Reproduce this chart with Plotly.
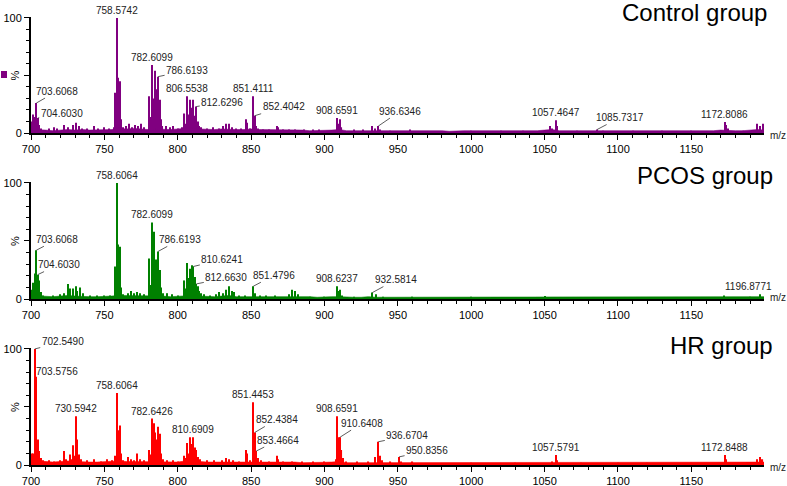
import plotly.graph_objects as go

# ---------------- DATA ----------------
noise_mz = list(range(700, 1201, 5))

ctrl_noise = [3, 3, 2.5, 2, 2.5, 3, 2.5, 3, 2.5, 2.5, 3,
              3, 4, 3.5, 4, 3.5, 3, 3.5, 3, 3, 3.5,
              4, 4.5, 3.5, 3, 3, 3.5, 3, 3, 3, 3.5,
              3, 3, 2.5, 2.5, 2.5, 2.5, 2.5, 2, 2, 2.5,
              2.5, 3, 2, 2, 2, 2.5, 2, 2, 2, 2,
              2, 2.5, 2, 2, 2, 2, 1.5, 2, 2, 2,
              2, 2, 1.5, 2, 2, 2, 2, 1.5, 2, 2.5,
              3, 2, 2, 2, 2, 1.5, 2, 2, 2, 2,
              2, 2, 2, 1.5, 2, 2, 2, 2, 2, 2,
              2, 2, 2, 2.5, 2, 2, 2, 2.5, 3, 2.5]
pcos_noise = [3, 2.5, 2, 2, 2.5, 3, 2.5, 2, 2, 2, 2,
              2.5, 3, 3, 2.5, 2.5, 2.5, 3, 2.5, 2, 2.5,
              3, 3, 2.5, 2, 2, 2.5, 3, 2, 2, 2,
              2, 2, 2, 2, 2, 2.5, 2, 2, 1.5, 2,
              2, 2, 1.5, 1.5, 1.5, 2, 1.5, 1.5, 1.5, 1.5,
              1.5, 1.5, 1.5, 1.5, 1.5, 1.5, 1.5, 1.5, 1.5, 1.5,
              1.5, 1.5, 1.5, 1.5, 1.5, 1.5, 1.5, 1.5, 1.5, 2,
              1.5, 1.5, 1.5, 1.5, 1.5, 1.5, 1.5, 1.5, 1.5, 1.5,
              1.5, 1.5, 1.5, 1.5, 1.5, 1.5, 1.5, 1.5, 1.5, 1.5,
              1.5, 1.5, 1.5, 2, 1.5, 1.5, 1.5, 1.5, 2, 2]
hr_noise = [4, 3.5, 3, 2.5, 3, 3.5, 3, 2.5, 2.5, 2.5, 3,
            3, 3.5, 3, 3, 2.5, 2.5, 3, 3, 2.5, 2.5,
            3.5, 3.5, 3, 2.5, 2.5, 3, 3, 2.5, 2.5, 3,
            3, 2.5, 2.5, 2.5, 2.5, 2.5, 2, 2, 2, 2,
            2.5, 3, 2, 2, 2, 2.5, 2.5, 2, 2, 2.5,
            2, 2, 2, 2, 2, 2, 2, 2, 2, 2,
            2, 2, 2, 2, 2, 2, 2, 2, 2, 2.5,
            2.5, 2, 2, 2, 2, 2, 2, 2, 2, 2,
            2, 2, 2, 2, 2, 2, 2, 2, 2, 2,
            2, 2, 2, 2.5, 2, 2, 2, 2, 2.5, 2.5]

ctrl_mz = [700.6, 701.5, 702.5, 703.6068, 704.603, 705.6, 706.6, 712, 716, 718, 722.5, 725, 728.5, 730.5,
           732.5, 735, 738, 743, 746, 750, 753, 756.5,
           757.6, 758.5742, 759.6, 760.6, 761.6, 762.6, 765, 767, 769, 771, 773, 775, 777,
           780.6, 781.6, 782.6099, 783.6, 784.6, 785.6, 786.6193, 787.6, 788.6, 789.6, 792, 795, 797, 800, 803,
           804.6, 805.6, 806.5538, 807.6, 808.6, 809.6, 810.6, 811.6, 812.6296, 813.6, 814.6, 816,
           820, 824, 828, 831, 833, 835, 837, 840, 843,
           846.5, 847.5, 849, 851.4111, 852.4042, 853.4, 855, 858, 862,
           867.6, 868.6, 872, 876, 880, 886, 892, 896,
           908.6591, 909.6, 910.6, 911.6, 920, 926, 932.6, 934.6, 936.6346, 937.6, 945, 958,
           1000, 1020, 1035, 1053.5, 1055, 1057.4647, 1058.5, 1072, 1085.7317, 1090, 1110, 1130, 1150,
           1172.8086, 1173.8, 1175, 1185, 1195, 1196.8, 1198.8]
ctrl_int = [10, 16, 14, 26, 13, 7, 4, 4, 5, 4, 7, 5, 7, 9,
            6, 4, 4, 6, 4, 5, 4, 5,
            35, 100, 48, 45, 12, 5, 6, 8, 5, 7, 6, 8, 5,
            32, 14, 59, 30, 54, 38, 49, 29, 12, 6, 6, 5, 6, 4, 5,
            17, 8, 32, 16, 29, 22, 29, 15, 23, 10, 6, 5,
            4, 5, 4, 6, 8, 8, 5, 4, 4,
            12, 9, 4, 32, 15, 6, 4, 3, 3,
            6, 5, 3, 3, 3, 3, 3, 3,
            13, 8, 12, 5, 3, 3, 6, 4, 6, 3, 2, 3,
            2, 2, 2, 6, 4, 11, 6, 2, 3, 2, 2, 2, 2,
            9.5, 7, 4, 2, 8, 6, 8]

pcos_mz = [700.6, 701.6, 702.6, 703.6068, 704.603, 705.6, 706.6, 708,
           715, 720, 722.5, 725.5, 726.5, 728.5, 730.5, 731.5, 733.5, 735.5, 740, 745, 750, 754,
           757.6, 758.6064, 759.6, 760.6, 761.6, 763, 766, 768, 770, 772, 774, 777,
           780.6, 781.6, 782.6099, 783.6, 784.6, 785.6, 786.6193, 787.6, 788.6, 790, 793, 796, 800,
           804.6, 805.6, 806.6, 807.6, 808.6, 809.6, 810.6241, 811.6, 812.663, 813.6, 814.6, 816, 818,
           822, 826, 828, 831, 833, 835, 837, 838.5, 842,
           846, 851.4796, 852.5, 856, 860, 866, 876, 878, 880, 882, 890, 900,
           908.6237, 909.6, 910.6, 912, 920, 932.5814, 935, 940, 960, 1000, 1050, 1100, 1150, 1172, 1190,
           1196.8771]
pcos_int = [8, 14, 22, 42, 21, 16, 6, 3,
            3, 4, 5, 13, 9, 9, 11, 7, 10, 5, 3, 3, 3, 3,
            28, 100, 47, 45, 10, 4, 5, 7, 5, 6, 5, 4,
            35, 12, 66, 58, 34, 34, 41, 25, 10, 5, 5, 4, 3,
            16, 9, 31, 18, 26, 29, 28, 19, 13, 11, 7, 5, 4,
            3, 4, 6, 5, 8, 11, 7, 6, 3,
            3, 11, 5, 3, 3, 3, 4, 8, 7, 4, 2, 2,
            11, 7, 8, 3, 2, 5.5, 4, 2, 2, 2, 2.5, 1.5, 1.5, 3, 2,
            4]

hr_mz = [700.5, 701.5, 702.549, 703.5756, 704.6, 705.6, 706.6, 708,
         712, 716, 720, 722.5, 724, 726.5, 727.5, 728.5, 729.5, 730.5942, 731.6, 732.6, 734, 738, 743, 748,
         752, 755,
         757.6, 758.6064, 759.6, 760.6, 761.6, 763, 766, 768, 770, 772, 774, 777,
         780.6, 781.6, 782.6426, 783.6, 784.6, 785.6, 786.6, 787.6, 788.6, 790, 793, 797, 800,
         804.6, 805.6, 806.6, 807.6, 808.6, 809.6, 810.6909, 811.6, 812.6, 813.6, 815,
         820, 825, 830, 833, 835, 838, 842,
         846.5, 847.5, 849, 851.4453, 852.4384, 853.4664, 854.5, 857, 862,
         867.6, 868.6, 872, 878, 885, 892, 900,
         907.6, 908.6591, 909.6, 910.6408, 911.6, 912.6, 915, 922,
         930, 934.6, 936.6704, 937.7, 939, 945, 950.8356, 952, 960,
         1000, 1030, 1055, 1057.5791, 1058.6, 1075, 1100, 1120, 1150,
         1172.8488, 1173.8, 1180, 1195, 1197, 1198.5]
hr_int = [10, 10, 100, 76, 22, 12, 6, 4,
          4, 3, 4, 12, 5, 9, 5, 17, 8, 42, 22, 9, 5, 4, 5, 3,
          5, 4,
          8, 62, 30, 34, 10, 4, 7, 5, 4, 10, 5, 4,
          13, 9, 40, 36, 28, 22, 33, 27, 10, 5, 4, 4, 3,
          8, 6, 19, 10, 24, 18, 24, 15, 13, 7, 5,
          4, 4, 4, 6, 5, 4, 3,
          13, 10, 4, 54, 28, 12, 6, 4, 3,
          8, 5, 3, 3, 3, 3, 3,
          5, 42, 24, 24, 13, 6, 3, 3,
          3, 7, 20, 8, 4, 3, 7, 3, 3,
          2, 2, 3, 8.6, 4, 2, 2, 2, 2,
          8.6, 5, 2, 5, 7, 5]

ctrl_labels = ["703.6068", "704.6030", "758.5742", "782.6099", "786.6193", "806.5538", "812.6296",
               "851.4111", "852.4042", "908.6591", "936.6346", "1057.4647", "1085.7317", "1172.8086"]
ctrl_label_int = [26, 13, 100, 59, 49, 32, 23, 32, 15, 13, 6, 11, 3, 9.5]

pcos_labels = ["703.6068", "704.6030", "758.6064", "782.6099", "786.6193", "810.6241", "812.6630",
               "851.4796", "908.6237", "932.5814", "1196.8771"]
pcos_label_int = [42, 21, 100, 66, 41, 28, 13, 11, 11, 5.5, 4]

hr_labels = ["702.5490", "703.5756", "730.5942", "758.6064", "782.6426", "810.6909", "851.4453",
             "852.4384", "853.4664", "908.6591", "910.6408", "936.6704", "950.8356", "1057.5791", "1172.8488"]
hr_label_int = [100, 76, 42, 62, 40, 24, 54, 28, 12, 42, 24, 20, 7, 8.6, 8.6]

group_names = ["Control group", "PCOS group", "HR group"]
x_tick_vals = [700, 750, 800, 850, 900, 950, 1000, 1050, 1100, 1150]

# ---------------- STYLE ----------------
colors = ["#800080", "#008000", "#FF0000"]
FONT = "Liberation Sans, Arial, sans-serif"
leader_offsets = [
    {"703.6068": (21, -12), "704.6030": (24, -5), "786.6193": (29, -6), "812.6296": (26, -4),
     "852.4042": (29, -9), "936.6346": (22, -15), "1085.7317": (23, -12)},
    {"703.6068": (21, -11), "704.6030": (21, -10), "786.6193": (22, -12), "810.6241": (29, -7),
     "812.6630": (30, -6), "851.4796": (21, -11), "932.5814": (24, -13)},
    {"702.5490": (28, -7), "703.5756": (21, -5), "852.4384": (22, -13), "853.4664": (22, -11),
     "910.6408": (22, -14), "936.6704": (29, -6), "950.8356": (28, -6)},
]
xshift_above = [{}, {"1196.8771": -12}, {}]

W, H = 787, 486
x_dom = [31 / W, 764 / W]
y_doms = [[(H - 133) / H, (H - 16.8) / H],
          [(H - 299) / H, (H - 181.8) / H],
          [(H - 465) / H, (H - 347.8) / H]]
title_y = [(H - 12) / H, (H - 175.5) / H, (H - 345.5) / H]
title_xr = [769 / W, 775 / W, 775 / W]
mz_y = [(H - 135) / H, (H - 297) / H, (H - 467) / H]
pct_y_center = 50

noises = [ctrl_noise, pcos_noise, hr_noise]
mzs = [ctrl_mz, pcos_mz, hr_mz]
ints = [ctrl_int, pcos_int, hr_int]
labels = [ctrl_labels, pcos_labels, hr_labels]
label_ints = [ctrl_label_int, pcos_label_int, hr_label_int]

fig = go.Figure()
annotations = []
layout_axes = {}

for i in range(3):
    sfx = "" if i == 0 else str(i + 1)
    xa, ya = "x" + sfx, "y" + sfx
    c = colors[i]
    fig.add_trace(go.Scatter(x=noise_mz, y=noises[i], mode="lines", fill="tozeroy",
                             line=dict(color=c, width=0.6), fillcolor=c,
                             xaxis=xa, yaxis=ya, hoverinfo="skip", showlegend=False))
    fig.add_trace(go.Bar(x=mzs[i], y=ints[i], width=0.75, marker=dict(color=c, line=dict(width=0)),
                         xaxis=xa, yaxis=ya, showlegend=False, cliponaxis=False))

    layout_axes["xaxis" + sfx] = dict(
        domain=x_dom, range=[700, 1199.5], anchor=ya, showline=True, linecolor="black", linewidth=2,
        ticks="outside", ticklen=5, tickwidth=1, tickcolor="black",
        tickmode="array", tickvals=x_tick_vals,
        minor=dict(dtick=10, tick0=700, ticks="outside", ticklen=3, tickwidth=1, tickcolor="black"),
        showgrid=False, zeroline=False, automargin=False,
        tickfont=dict(family=FONT, size=11, color="black"))
    layout_axes["yaxis" + sfx] = dict(
        domain=y_doms[i], range=[0, 101], anchor=xa, showline=True, linecolor="black", linewidth=2,
        ticks="outside", ticklen=5, tickwidth=1, tickcolor="black",
        tickmode="array", tickvals=[0, 50, 100], ticktext=["0", "", "100"],
        minor=dict(tickmode="array", tickvals=[10, 20, 30, 40, 60, 70, 80, 90], ticks="outside",
                   ticklen=3, tickwidth=1, tickcolor="black"),
        showgrid=False, zeroline=False, automargin=False,
        tickfont=dict(family=FONT, size=11, color="black"))

    annotations.append(dict(xref="paper", yref="paper", x=title_xr[i], y=title_y[i], xanchor="right",
                            yanchor="middle", text=group_names[i], showarrow=False,
                            font=dict(family=FONT, size=24, color="black")))
    annotations.append(dict(xref="paper", yref="paper", x=768 / W, y=mz_y[i], xanchor="left",
                            yanchor="middle", text="m/z", showarrow=False,
                            font=dict(family=FONT, size=10, color="#222")))
    annotations.append(dict(xref="paper", yref=ya, x=15 / W, y=pct_y_center, xanchor="center",
                            yanchor="middle", text="%", textangle=-90, showarrow=False,
                            font=dict(family=FONT, size=11, color="black")))
    for lab, li in zip(labels[i], label_ints[i]):
        xv = float(lab)
        if lab in leader_offsets[i]:
            ax, ay = leader_offsets[i][lab]
            annotations.append(dict(xref=xa, yref=ya, x=xv, y=li, text=lab, showarrow=True,
                                    ax=ax, ay=ay, arrowhead=0, arrowwidth=0.8, arrowcolor="#333",
                                    standoff=0, font=dict(family=FONT, size=10, color="#222")))
        else:
            annotations.append(dict(xref=xa, yref=ya, x=xv, y=li, text=lab, showarrow=False,
                                    yanchor="bottom", xshift=xshift_above[i].get(lab, 0),
                                    font=dict(family=FONT, size=10, color="#222")))

fig.update_layout(width=W, height=H, margin=dict(l=0, r=0, t=0, b=0, autoexpand=False),
                  paper_bgcolor="white", plot_bgcolor="white", showlegend=False,
                  annotations=annotations, barmode="overlay",
                  shapes=[dict(type="rect", xref="paper", yref="paper",
                               x0=1 / W, x1=7 / W, y0=(H - 78) / H, y1=(H - 71) / H,
                               fillcolor=colors[0], line=dict(width=0))],
                  **layout_axes)

fig.write_html("out.html", config={"displayModeBar": False},
               post_script="document.body.style.margin='0px';document.body.style.overflow='hidden';")
